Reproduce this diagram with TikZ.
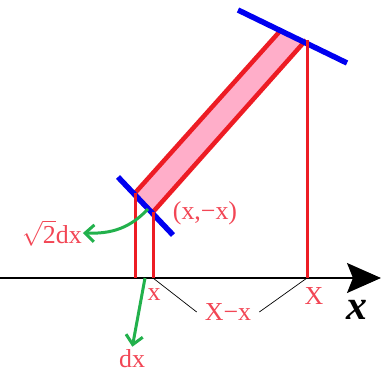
\documentclass[tikz,border=0pt]{standalone}
\usepackage{amsmath}
\usepackage{fontspec}
\setmainfont{Liberation Serif}
\usetikzlibrary{arrows.meta, positioning}
\definecolor{paintred}{RGB}{237,28,36}
\definecolor{labelred}{RGB}{242,70,85}
\definecolor{paintpink}{RGB}{255,174,201}
\definecolor{paintgreen}{RGB}{34,177,76}
\definecolor{paintblue}{RGB}{0,0,240}

\begin{document}
\begin{tikzpicture}[
    x=1bp, y=-1bp,
    edge/.style={paintred, line width=4.5bp},
    drop/.style={paintred, line width=3bp},
    cut/.style={paintblue, line width=5.5bp},
    lbl/.style={labelred, font=\fontsize{26}{28}\selectfont, inner sep=1bp},
    pointer/.style={paintgreen, line width=3bp, -{Straight Barb[length=9bp, width=17bp]}},
    tick/.style={black, line width=0.7bp}
]
\useasboundingbox (0,0) rectangle (381,374);

% corners of the strip
\coordinate (lo1) at (135,193);
\coordinate (lo2) at (153,212);
\coordinate (up2) at (306,40);
\coordinate (up1) at (281,30);
\coordinate (axl) at (0,278);
\coordinate (axr) at (381,278);

\fill[paintpink] (lo1) -- (up1) -- (up2) -- (lo2) -- cycle;
\draw[edge] (lo1) -- (up1);
\draw[edge] (lo2) -- (up2);

% cut lines
\coordinate (c1) at (118,177);
\coordinate (c2) at (173,235);
\coordinate (c3) at (238,10);
\coordinate (c4) at (347,63);
\draw[cut] (c1) -- (c2);
\draw[cut] (c3) -- (c4);

% x axis
\draw[black, line width=1.3bp, -{Stealth[length=34bp, width=30bp, inset=6bp]}] (axl) -- (axr);
\node[font=\fontsize{42}{42}\selectfont\bfseries\itshape, inner sep=0pt] (xaxis) at (357,310) {x};

% drops to the axis
\draw[drop] (lo1) -- (lo1 |- axl);
\draw[drop] (lo2) -- (lo2 |- axl);
\draw[drop] (307,40) -- (307,278);
\coordinate (fx) at (153,278);
\coordinate (fX) at (307,278);
\coordinate (fdx) at (145,278);
\coordinate (from) at (148,209);

% labels
\node[lbl] (pt) at (205,213) {(x,−x)};
\node[lbl] (root) at (52,233) {$\sqrt{\text{2}}$dx};
\node[lbl] (small) at (154,295) {x};
\node[lbl] (big) at (314,296) {X};
\node[lbl, inner sep=8bp] (diff) at (228,312) {X−x};
\node[lbl] (dx) at (132,359) {dx};

\draw[tick] (fx) -- (diff.west);
\draw[tick] (fX) -- (diff.east);
\draw[pointer] (from) .. controls (130,228) and (112,234) .. (root.east);
\draw[pointer, shorten >=2bp] (fdx) -- (dx.north);
\end{tikzpicture}
\end{document}
